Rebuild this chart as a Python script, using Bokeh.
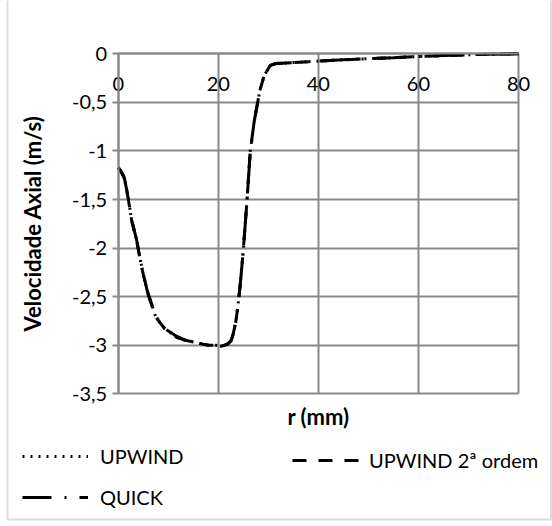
from bokeh.plotting import figure
from bokeh.models import (Range1d, FixedTicker, LinearAxis, Legend, LegendItem,
                          CustomJSTickFormatter, Grid, BoxAnnotation)
from bokeh.embed import file_html
from bokeh.resources import INLINE

# ---- data ----
r_mm = [0, 0.5, 1.2, 2.0, 2.7, 3.7, 4.7, 5.8, 7.5, 9.3, 11.75, 13.5, 15.3, 17.0,
        18.1, 19.5, 20.5, 21.3, 22.0, 22.6, 23.0, 23.5, 23.9, 24.4, 25.0, 25.7,
        26.4, 27.2, 28.3, 29.2, 30.4, 31.5, 35, 40, 45, 50, 55, 60, 65, 70, 75, 80]
v_upwind = [-1.17, -1.20, -1.27, -1.48, -1.72, -1.92, -2.20, -2.44, -2.71, -2.83,
            -2.92, -2.95, -2.97, -2.99, -3.00, -3.00, -3.01, -3.00, -2.985, -2.95,
            -2.88, -2.76, -2.61, -2.37, -2.02, -1.54, -1.00, -0.69, -0.38, -0.22,
            -0.12, -0.10, -0.09, -0.076, -0.062, -0.05, -0.04, -0.028, -0.018,
            -0.01, -0.004, 0.0]
v_upwind2 = [-1.17, -1.21, -1.28, -1.49, -1.72, -1.93, -2.20, -2.45, -2.71, -2.83,
             -2.92, -2.95, -2.97, -2.99, -3.00, -3.00, -3.01, -3.00, -2.985, -2.95,
             -2.88, -2.76, -2.61, -2.37, -2.02, -1.54, -1.00, -0.69, -0.38, -0.22,
             -0.12, -0.10, -0.09, -0.076, -0.062, -0.05, -0.04, -0.028, -0.018,
             -0.01, -0.004, 0.0]
v_quick = [-1.18, -1.20, -1.27, -1.48, -1.71, -1.92, -2.19, -2.44, -2.70, -2.83,
           -2.91, -2.95, -2.97, -2.99, -3.00, -3.00, -3.01, -3.00, -2.98, -2.95,
           -2.88, -2.76, -2.61, -2.37, -2.02, -1.54, -1.00, -0.69, -0.38, -0.22,
           -0.12, -0.10, -0.09, -0.076, -0.062, -0.05, -0.04, -0.028, -0.018,
           -0.01, -0.004, 0.0]
series_names = ["UPWIND", "UPWIND 2ª ordem", "QUICK"]
x_ticks = [0, 20, 40, 60, 80]
y_ticks = [0, -0.5, -1, -1.5, -2, -2.5, -3, -3.5]

# ---- layout (pixels) ----
W, H = 552, 526
PX_L, PX_R = 117.7, 518.0     # where x = 0 and x = 80 fall
PX_T, PX_B = 53.3, 393.3      # where y = 0 and y = -3.5 fall
X0, X1 = x_ticks[0], x_ticks[-1]
Y0, Y1 = y_ticks[-1], y_ticks[0]
sx = (PX_R - PX_L) / (X1 - X0)
sy = (PX_B - PX_T) / (Y1 - Y0)
x_range = Range1d(X0 - PX_L / sx, X1 + (W - PX_R) / sx)
y_range = Range1d(Y0 - (H - PX_B) / sy, Y1 + PX_T / sy)

GRID = "#898989"
FONT = "Lato"

p = figure(width=W, height=H, output_backend="svg", toolbar_location=None,
           x_range=x_range, y_range=y_range,
           min_border_left=0, min_border_right=0, min_border_top=0, min_border_bottom=0,
           x_axis_location=None, y_axis_location=None)
p.outline_line_color = None
# drop the default full-width grids
p.center = [r for r in p.center if not isinstance(r, Grid)]

# outer chart border (left, top, right)
p.add_layout(BoxAnnotation(left=7, right=550.5, top=7, bottom=H + 20,
                           left_units="screen", right_units="screen",
                           top_units="screen", bottom_units="screen",
                           fill_alpha=0, line_color="#8c8c8c", line_width=2))

fmt = CustomJSTickFormatter(code="return String(tick).replace('.', ',');")

# grid lines limited to the plot area
gx = Grid(dimension=0, ticker=FixedTicker(ticks=x_ticks), bounds=(X0, X1),
          cross_bounds=(Y0, Y1), grid_line_color=GRID, grid_line_width=2)
gy = Grid(dimension=1, ticker=FixedTicker(ticks=y_ticks), bounds=(Y0, Y1),
          cross_bounds=(X0, X1), grid_line_color=GRID, grid_line_width=2)
p.add_layout(gx)
p.add_layout(gy)

# x axis crossing at y = 0
xax = LinearAxis(ticker=FixedTicker(ticks=x_ticks), formatter=fmt,
                 fixed_location=0, bounds=(X0, X1))
xax.axis_line_color = GRID
xax.axis_line_width = 2
xax.major_tick_out = 0
xax.major_tick_in = 0
xax.minor_tick_line_color = None
xax.major_label_standoff = 23
xax.major_label_text_font = FONT
xax.major_label_text_font_size = "20px"
xax.major_label_text_color = "black"
p.add_layout(xax, "below")

# x axis title under the plot area
xtitle = LinearAxis(ticker=FixedTicker(ticks=[]), axis_label="r (mm)",
                    fixed_location=Y0, bounds=(X0, X1))
xtitle.axis_line_color = None
xtitle.major_tick_line_color = None
xtitle.minor_tick_line_color = None
xtitle.axis_label_standoff = 9
xtitle.axis_label_text_font = FONT
xtitle.axis_label_text_font_style = "bold"
xtitle.axis_label_text_font_size = "22px"
xtitle.axis_label_text_color = "black"
p.add_layout(xtitle, "below")

# y axis at x = 0
yax = LinearAxis(ticker=FixedTicker(ticks=y_ticks), formatter=fmt,
                 fixed_location=0, bounds=(Y0, Y1))
yax.axis_line_color = GRID
yax.axis_line_width = 2
yax.major_tick_line_color = GRID
yax.major_tick_line_width = 2
yax.major_tick_out = 6
yax.major_tick_in = 0
yax.minor_tick_line_color = None
yax.major_label_standoff = 5
yax.major_label_text_font = FONT
yax.major_label_text_font_size = "20px"
yax.major_label_text_color = "black"
yax.axis_label = "Velocidade Axial (m/s)"
yax.axis_label_text_font = FONT
yax.axis_label_text_font_style = "bold"
yax.axis_label_text_font_size = "22px"
yax.axis_label_text_color = "black"
yax.axis_label_standoff = 23
p.add_layout(yax, "left")

r1 = p.line(r_mm, v_upwind, line_color="black", line_width=3, line_dash="2 6")
r2 = p.line(r_mm, v_upwind2, line_color="black", line_width=3, line_dash="14 12")
r3 = p.line(r_mm, v_quick, line_color="black", line_width=3, line_dash="29 13 2 13")

def make_legend(items, loc, gw, standoff):
    lg = Legend(items=items, location=loc, orientation="vertical")
    lg.padding = 0
    lg.margin = 0
    lg.spacing = 17
    lg.border_line_color = None
    lg.background_fill_alpha = 0
    lg.glyph_width = gw
    lg.glyph_height = 20
    lg.label_height = 20
    lg.label_standoff = standoff
    lg.label_text_font = FONT
    lg.label_text_font_size = "20px"
    lg.label_text_color = "black"
    return lg

legA = make_legend([LegendItem(label=series_names[0], renderers=[r1]),
                    LegendItem(label=series_names[2], renderers=[r3])], (22, 17), 66, 12)
legB = make_legend([LegendItem(label=series_names[1], renderers=[r2])], (292, 54), 67, 10)
p.add_layout(legA, "center")
p.add_layout(legB, "center")

open("out.html", "w").write(file_html(p, INLINE))
